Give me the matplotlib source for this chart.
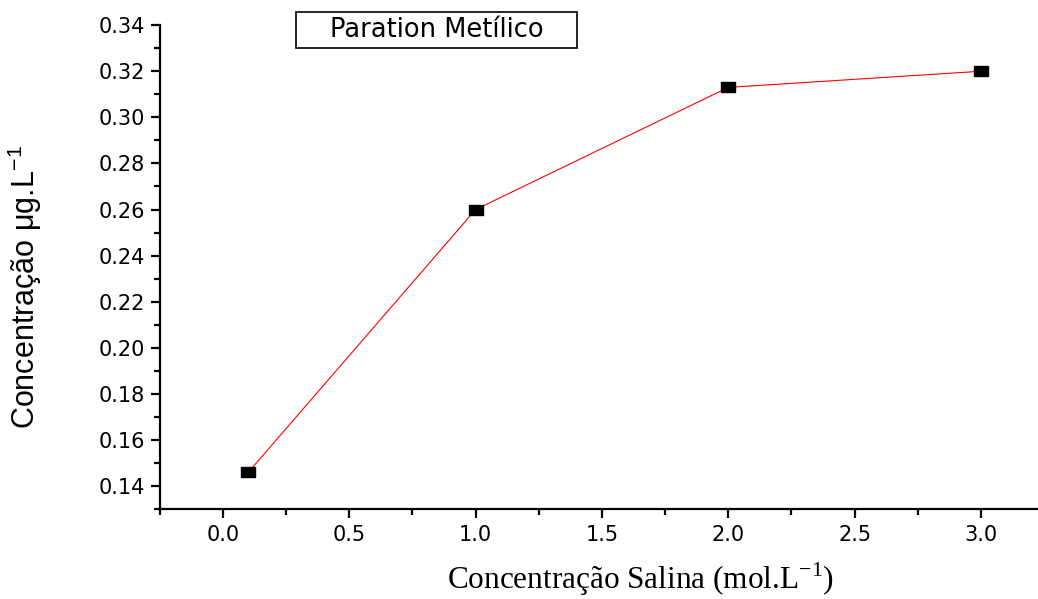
import numpy as np
import matplotlib.pyplot as plt
from matplotlib.ticker import MultipleLocator
from matplotlib.patches import Rectangle

salinidade = [0.1, 1.0, 2.0, 3.0]
concentracao = [0.146, 0.260, 0.313, 0.320]
xticks = [0.0, 0.5, 1.0, 1.5, 2.0, 2.5, 3.0]
yticks = [0.14, 0.16, 0.18, 0.20, 0.22, 0.24, 0.26, 0.28, 0.30, 0.32, 0.34]

W, H = 1038, 599
fig = plt.figure(figsize=(W / 100, H / 100), dpi=100)
ax = fig.add_axes([0.154, 0.150, 0.846, 0.808])

box = [(-1.35, -1), (1.35, -1), (1.35, 1), (-1.35, 1), (-1.35, -1)]
ax.plot(salinidade, concentracao, color='red', lw=0.8, marker=box,
        markersize=10, markerfacecolor='black', markeredgecolor='black', zorder=3)

ax.set_xlim(-0.25, 3.226)
ax.set_ylim(0.13, 0.34)
ax.xaxis.set_minor_locator(MultipleLocator(0.25))
ax.yaxis.set_minor_locator(MultipleLocator(0.01))
ax.set_xticks(xticks)
ax.set_yticks(yticks)
ax.set_xticklabels(['%.1f' % v for v in xticks])
ax.set_yticklabels(['%.2f' % v for v in yticks])

for s in ['top', 'right']:
    ax.spines[s].set_visible(False)
for s in ['left', 'bottom']:
    ax.spines[s].set_linewidth(1.6)

ax.tick_params(which='major', direction='out', length=6.5, width=1.6,
               labelsize=15, pad=4)
ax.tick_params(which='minor', direction='out', length=4, width=1.6)
ax.tick_params(axis='x', pad=5)
for lab in ax.get_xticklabels() + ax.get_yticklabels():
    lab.set_family('DejaVu Sans')

ax.set_ylabel('Concentração $\\mathregular{\\mu}$g.L$^{\\mathregular{-1}}$',
              family='Liberation Sans', fontsize=22)
ax.yaxis.set_label_coords(-0.132, 0.46)
ax.set_xlabel('Concentração Salina (mol.L$^{\\mathregular{-1}}$)',
              family='Liberation Serif', fontsize=22.5)
ax.xaxis.set_label_coords(0.547, -0.105)

# caixa do título
fig.patches.append(Rectangle((296 / W, 1 - 48 / H), 281 / W, 36 / H,
                             transform=fig.transFigure, facecolor='white',
                             edgecolor='black', lw=1.2))
fig.text(437 / W, 1 - 30 / H, 'Paration Metílico', ha='center', va='center',
         family='DejaVu Sans', fontsize=18.5)

fig.savefig('out.png', dpi=100)
